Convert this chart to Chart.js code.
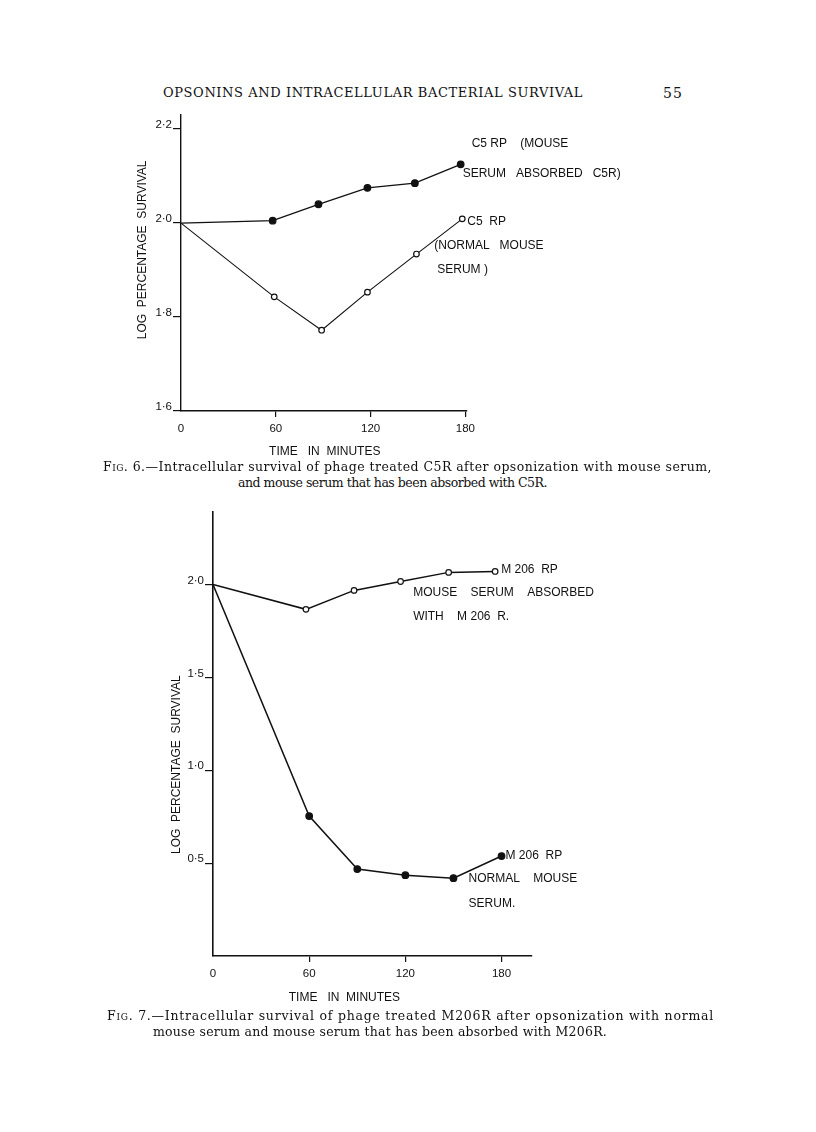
<!DOCTYPE html>
<html>
<head>
<meta charset="utf-8">
<script src="https://cdn.jsdelivr.net/npm/chart.js@4.4.1/dist/chart.umd.min.js"></script>
<style>
  body { margin: 0; background: #fff; }
  #page { position: relative; width: 816px; height: 1132px; background: #fff; overflow: hidden; }
  .txt { position: absolute; white-space: pre; line-height: 16px; color: #111; font-family: "DejaVu Serif", serif; }
  .sc { font-variant: small-caps; }
  canvas { position: absolute; }
</style>
</head>
<body>
<div id="page">
  <div class="txt fit" data-w="420" style="left:163px; top:85px; font-size:13px;">OPSONINS AND INTRACELLULAR BACTERIAL SURVIVAL</div>
  <div class="txt fit" data-w="20" style="left:663px; top:85px; font-size:14px;">55</div>

  <canvas id="fig6" width="570" height="362" style="left:120px; top:100px; width:570px; height:362px"></canvas>
  <div class="txt fit" data-w="609" style="left:103px; top:459px; font-size:12.5px;"><span class="sc">Fig.</span> 6.—Intracellular survival of phage treated C5R after opsonization with mouse serum,</div>
  <div class="txt fit" data-w="309" style="left:238px; top:475px; font-size:12.5px;">and mouse serum that has been absorbed with C5R.</div>

  <canvas id="fig7" width="520" height="510" style="left:140px; top:500px; width:520px; height:510px"></canvas>
  <div class="txt fit" data-w="607" style="left:107px; top:1008px; font-size:12.5px;"><span class="sc">Fig.</span> 7.—Intracellular survival of phage treated M206R after opsonization with normal</div>
  <div class="txt fit" data-w="454" style="left:153px; top:1024px; font-size:12.5px;">mouse serum and mouse serum that has been absorbed with M206R.</div>
</div>
<script>
const timeTicks = [0, 60, 120, 180];
const yTitle = 'LOG  PERCENTAGE  SURVIVAL';
const xTitle = 'TIME   IN  MINUTES';

// Fig. 6 - C5R
const fig6Ticks = [1.6, 1.8, 2.0, 2.2];
const c5AbsorbedTime = [0, 58, 87, 118, 148, 177];
const c5AbsorbedLog = [2.0, 2.005, 2.04, 2.075, 2.085, 2.125];
const c5NormalTime = [0, 59, 89, 118, 149, 178];
const c5NormalLog = [2.0, 1.843, 1.772, 1.853, 1.934, 2.009];
const c5AbsorbedLabel = ['C5 RP    (MOUSE', 'SERUM   ABSORBED   C5R)'];
const c5NormalLabel = ['C5  RP', '(NORMAL   MOUSE', 'SERUM )'];

// Fig. 7 - M206R
const fig7Ticks = [0.5, 1.0, 1.5, 2.0];
const m206AbsorbedTime = [0, 58, 88, 117, 147, 176];
const m206AbsorbedLog = [2.0, 1.866, 1.968, 2.016, 2.065, 2.07];
const m206NormalTime = [0, 60, 90, 120, 150, 180];
const m206NormalLog = [2.0, 0.753, 0.468, 0.435, 0.419, 0.538];
const m206AbsorbedLabel = ['M 206  RP', 'MOUSE    SERUM    ABSORBED', 'WITH    M 206  R.'];
const m206NormalLabel = ['M 206  RP', 'NORMAL    MOUSE', 'SERUM.'];

const ink = '#111';
Chart.defaults.font.family = '"Liberation Sans", Arial, sans-serif';
Chart.defaults.color = ink;

// stretch the serif texts to the widths seen on the page
document.querySelectorAll('.fit').forEach(el => {
  const target = +el.dataset.w;
  const n = el.textContent.length;
  const w = el.getBoundingClientRect().width;
  el.style.letterSpacing = ((target - w) / n) + 'px';
});

function pts(xs, ys) {
  return xs.map((x, i) => ({ x, y: ys[i] }));
}

function series(xs, ys, filled, width) {
  return {
    data: pts(xs, ys),
    borderColor: ink,
    borderWidth: width,
    backgroundColor: filled ? ink : '#fff',
    pointBackgroundColor: filled ? ink : '#fff',
    pointBorderColor: ink,
    pointBorderWidth: 1.2,
    pointRadius: c => c.dataIndex === 0 ? 0 : (filled ? 3.3 : 2.8),
    tension: 0,
    fill: false
  };
}

const notes = {
  id: 'notes',
  afterDatasetsDraw(chart, args, o) {
    const ctx = chart.ctx;
    ctx.save();
    ctx.fillStyle = ink;
    ctx.font = '12px "Liberation Sans", Arial, sans-serif';
    ctx.textBaseline = 'middle';
    ctx.textAlign = 'left';
    o.items.forEach(it => {
      const meta = chart.getDatasetMeta(it.dataset);
      const last = meta.data[meta.data.length - 1];
      it.lines.forEach((t, i) => ctx.fillText(t, last.x + it.dx[i], last.y + it.dy[i]));
    });
    const xs = chart.scales.x, ys = chart.scales.y;
    ctx.textAlign = 'center';
    ctx.fillText(xTitle, xs.getPixelForValue(o.xTitleAt), o.xTitleY);
    ctx.translate(o.yTitleX, ys.getPixelForValue(o.yTitleAt));
    ctx.rotate(-Math.PI / 2);
    ctx.fillText(yTitle, 0, 0);
    ctx.restore();
  }
};

function buildChart(id, o) {
  return new Chart(document.getElementById(id), {
    type: 'line',
    data: { datasets: o.datasets },
    options: {
      responsive: false,
      animation: false,
      layout: { padding: o.padding },
      plugins: { legend: { display: false }, tooltip: { enabled: false }, notes: o.notes },
      scales: {
        x: {
          type: 'linear', min: 0, max: o.xMax,
          afterBuildTicks: s => { s.ticks = timeTicks.map(v => ({ value: v })); },
          afterFit: s => { s.height = o.xHeight; },
          border: { color: ink, width: o.axisWidth },
          grid: {
            drawOnChartArea: false, tickLength: 6, lineWidth: 1.2,
            color: c => (c.tick && c.tick.value === 0) ? 'rgba(0,0,0,0)' : ink
          },
          ticks: { font: { size: 11.5 }, padding: 5, maxRotation: 0, callback: v => String(v) }
        },
        y: {
          type: 'linear', min: o.yMin, max: o.yMax,
          afterBuildTicks: s => { s.ticks = o.yTicks.map(v => ({ value: v })); },
          afterFit: s => { s.width = o.yWidth; },
          border: { color: ink, width: o.axisWidth },
          grid: { drawOnChartArea: false, tickLength: 8, lineWidth: 1.2, color: ink },
          ticks: { font: { size: 11.5 }, padding: 1, labelOffset: -4, callback: v => v.toFixed(1).replace('.', '·') }
        }
      }
    },
    plugins: [notes]
  });
}

buildChart('fig6', {
  datasets: [
    series(c5AbsorbedTime, c5AbsorbedLog, true, 1.3),
    series(c5NormalTime, c5NormalLog, false, 1.1)
  ],
  xMax: 181, yMin: 1.6, yMax: 2.23, yTicks: fig6Ticks,
  padding: { left: 0, top: 15, right: 223, bottom: 0 },
  xHeight: 51, yWidth: 61, axisWidth: 1.4,
  notes: {
    items: [
      { dataset: 0, lines: c5AbsorbedLabel, dx: [11, 2], dy: [-21, 9] },
      { dataset: 1, lines: c5NormalLabel, dx: [5, -28, -25], dy: [3, 27, 51] }
    ],
    xTitleAt: 91, xTitleY: 352, yTitleX: 23, yTitleAt: 1.943
  }
});

buildChart('fig7', {
  datasets: [
    series(m206AbsorbedTime, m206AbsorbedLog, false, 1.5),
    series(m206NormalTime, m206NormalLog, true, 1.5)
  ],
  xMax: 199, yMin: 0, yMax: 2.39, yTicks: fig7Ticks,
  padding: { left: 0, top: 12, right: 128, bottom: 0 },
  xHeight: 54, yWidth: 73, axisWidth: 1.6,
  notes: {
    items: [
      { dataset: 0, lines: m206AbsorbedLabel, dx: [6, -82, -82], dy: [-2, 21, 45] },
      { dataset: 1, lines: m206NormalLabel, dx: [4, -33, -33], dy: [0, 23, 48] }
    ],
    xTitleAt: 82, xTitleY: 498, yTitleX: 37, yTitleAt: 1.03
  }
});
</script>
</body>
</html>
